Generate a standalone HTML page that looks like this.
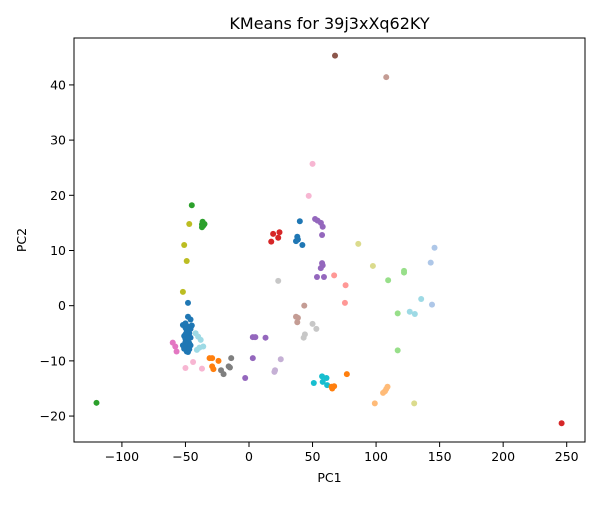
<!DOCTYPE html>
<html><head><meta charset="utf-8"><style>
body{margin:0;background:#fff;font-family:"Liberation Sans","DejaVu Sans",sans-serif;}
svg text{font-family:"DejaVu Sans","Liberation Sans",sans-serif;}
</style></head><body>
<svg id="chart" width="600" height="500"></svg>
<script>
const clusterColors=["#1f77b4","#aec7e8","#ff7f0e","#ffbb78","#2ca02c","#98df8a","#d62728","#ff9896","#9467bd","#c5b0d5","#8c564b","#c49c94","#e377c2","#f7b6d2","#7f7f7f","#c7c7c7","#bcbd22","#dbdb8d","#17becf","#9edae5"];
const xTicks=[-100,-50,0,50,100,150,200,250];
const yTicks=[-20,-10,0,10,20,30,40];
const pcX=[-45,-37,-36,-37,-35,-36.5,-47,-51,-49,-52,-48,-48,-46,-52,-50,-49,-48,-47,-46,-45,-51,-50,-49,-48,-47,-46,-52,-51,-49,-48,-47,-50,-48,-46,-49,-42,-40,-38,-36,-41,-39,-60,-58,-57,-31,-29,-24,-29,-28,-14,-16,-15,-22,-20,3,5,13,3,-3,25,20.5,20,-50,-44,-37,47,50,19,24,23,17.5,40,38,38.5,37,42,23,44,43,43.5,37,38.5,38,52,54,56.6,58,57.5,57.5,58,56.5,53.5,59,67,76,75.5,86,97.5,130,122,122,109.5,117,117,146,143,144,135.5,126.5,130.5,50,53,51,57.5,61,58,61.5,65,67,65.5,77,109,108,107,105.5,99,67.7,108,-120,246,-50,-48,-51,-47,-49,-50];
const pcY=[18.2,14.7,14.5,14.2,14.8,15.2,14.8,11,8.1,2.5,0.5,-2,-2.5,-3.5,-4,-4.5,-3.8,-5,-4.2,-3.6,-5.5,-6,-6.5,-6.2,-7,-5.8,-7.2,-7.8,-8.3,-7.5,-6.8,-5.2,-8.4,-7.2,-4.8,-5,-5.6,-6.2,-7.4,-8,-7.6,-6.7,-7.4,-8.3,-9.5,-9.5,-10,-11,-11.5,-9.5,-11,-11.2,-11.7,-12.4,-5.7,-5.7,-5.8,-9.5,-13.1,-9.7,-11.7,-12,-11.3,-10.2,-11.4,19.9,25.7,13,13.3,12.3,11.6,15.3,12.5,12,11.7,11,4.5,-5.2,-5.8,0,-2,-2.2,-3,15.7,15.4,15,14.3,12.8,7.7,7.3,6.8,5.2,5.2,5.5,3.7,0.5,11.2,7.2,-17.7,6.3,6,4.6,-1.4,-8.1,10.5,7.8,0.2,1.2,-1.1,-1.5,-3.3,-4.2,-14,-12.8,-13.1,-13.8,-14.4,-14.7,-14.6,-15,-12.4,-14.7,-15.1,-15.5,-15.8,-17.7,45.3,41.4,-17.6,-21.3,-6.6,-5.9,-7.5,-7.9,-4.1,-3.2];
const pcCluster=[4,4,4,4,4,4,16,16,16,16,0,0,0,0,0,0,0,0,0,0,0,0,0,0,0,0,0,0,0,0,0,0,0,0,0,19,19,19,19,19,19,12,12,12,2,2,2,2,2,14,14,14,14,14,8,8,8,8,8,9,9,9,13,13,13,13,13,6,6,6,6,0,0,0,0,0,15,15,15,11,11,11,11,8,8,8,8,8,8,8,8,8,8,7,7,7,17,17,17,5,5,5,5,5,1,1,1,19,19,19,15,15,18,18,18,18,18,2,2,2,2,3,3,3,3,3,10,11,4,6,0,0,0,0,0,0];
const NS="http://www.w3.org/2000/svg";
const svg=document.getElementById("chart");
const L=74,R=585,T=38,B=442;
const xMin=-137.7,xMax=264.4,yMin=-24.7,yMax=48.5;
function sx(v){return L+(v-xMin)/(xMax-xMin)*(R-L);}
function sy(v){return B-(v-yMin)/(yMax-yMin)*(B-T);}
function mk(tag,attrs){const e=document.createElementNS(NS,tag);for(const k in attrs)e.setAttribute(k,attrs[k]);svg.appendChild(e);return e;}
const title=mk("text",{x:(L+R)/2,y:29,"text-anchor":"middle","font-size":"16"});title.textContent="KMeans for 39j3xXq62KY";


const g=document.createElementNS(NS,"g");svg.appendChild(g);


for(let i=0;i<pcX.length;i++){
  const c=document.createElementNS(NS,"circle");
  c.setAttribute("cx",sx(pcX[i]));c.setAttribute("cy",sy(pcY[i]));c.setAttribute("r",3);
  c.setAttribute("fill",clusterColors[pcCluster[i]]);
  
  
  g.appendChild(c);
}
const frame=mk("rect",{x:L,y:T,width:R-L,height:B-T,fill:"none",stroke:"#000","stroke-width":"1"});


xTicks.forEach(t=>{
  const x=sx(t);
  const l=mk("line",{x1:x,x2:x,y1:B,y2:B+5,stroke:"#000"});
  
  
  const tx=mk("text",{x:x,y:B+19,"text-anchor":"middle","font-size":"12.5"});tx.textContent=t<0?"\u2212"+(-t):t;
  
  
});
yTicks.forEach(t=>{
  const y=sy(t);
  const l=mk("line",{x1:L-5,x2:L,y1:y,y2:y,stroke:"#000"});
  
  
  const tx=mk("text",{x:L-8,y:y+4.5,"text-anchor":"end","font-size":"12.5"});tx.textContent=t<0?"\u2212"+(-t):t;
  
  
});
const xl=mk("text",{x:(L+R)/2,y:482,"text-anchor":"middle","font-size":"12.5"});xl.textContent="PC1";


const yl=mk("text",{x:26,y:(T+B)/2,"text-anchor":"middle","font-size":"12.5",transform:"rotate(-90 26 "+((T+B)/2)+")"});yl.textContent="PC2";


</script>
</body></html>
